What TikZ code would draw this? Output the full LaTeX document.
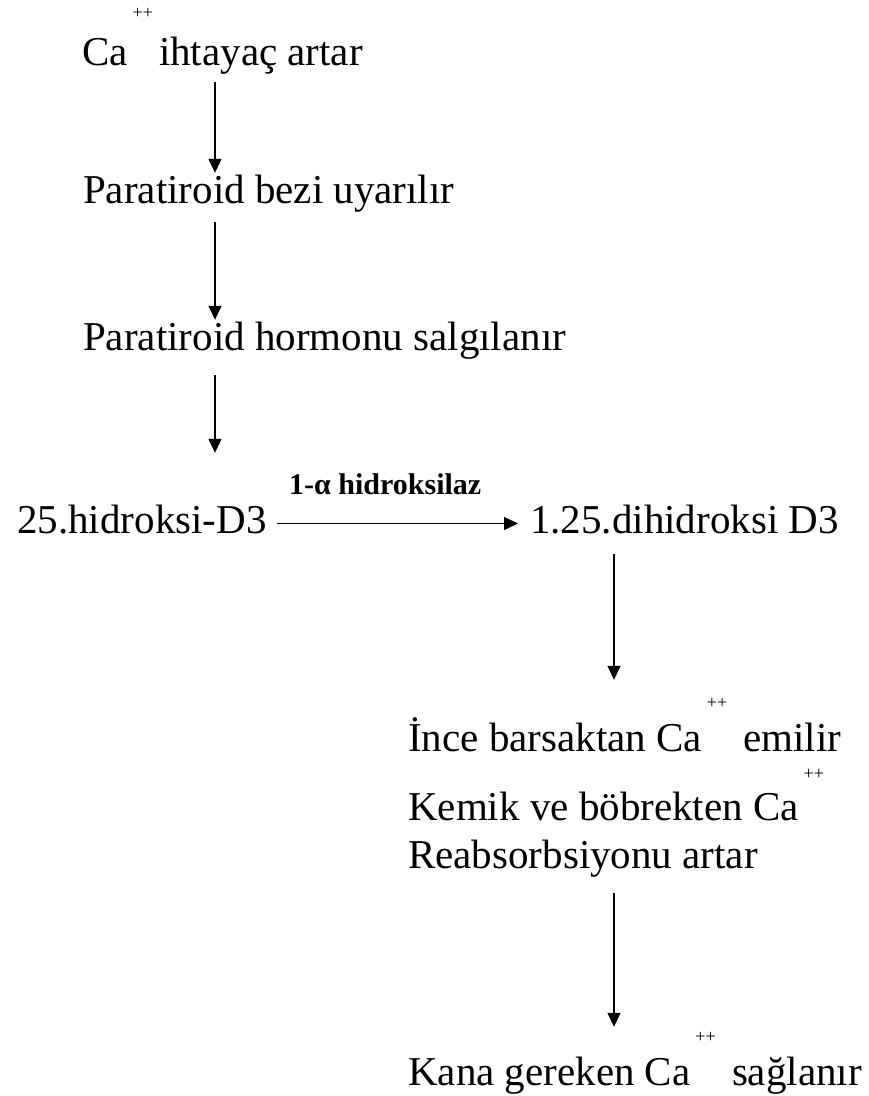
\documentclass[tikz,border=0pt]{standalone}
\usepackage{fontspec}
\setmainfont{Liberation Serif}
\usetikzlibrary{arrows.meta}

% raised ++ after Ca
\newcommand{\ionplus}[1][43pt]{\kern5pt\smash{\raisebox{#1}{\fontsize{18}{18}\selectfont ++}}\kern6pt}

\begin{document}
\begin{tikzpicture}[x=1pt, y=-1pt,
    textline/.style={anchor=base west, inner sep=0pt, text height=28pt, text depth=9pt,
      font=\fontsize{41}{49}\selectfont},
    flow/.style={-{Triangle[length=14pt,width=13pt]}, line width=1.3pt}]
    \useasboundingbox (0,0) rectangle (869,1096);

    % draw nodes
    \node[textline] (need)      at (82,65)   {Ca\ionplus[47pt] ihtayaç artar};
    \node[textline] (gland)     at (83,203)  {Paratiroid bezi uyarılır};
    \node[textline] (hormone)   at (83,350)  {Paratiroid hormonu salgılanır};
    \node[textline] (hydroxy)   at (17,533)  {25.hidroksi-D3};
    \node[textline] (dihydroxy) at (530,533) {1.25.dihidroksi D3};
    \node[textline] (intestine) at (408,751) {İnce barsaktan Ca\ionplus{} emilir};
    \node[textline] (bone)      at (408,820) {Kemik ve böbrekten Ca\ionplus[41pt]};
    \node[textline] (reabs)     at (408,868) {Reabsorbsiyonu artar};
    \node[textline] (blood)     at (408,1085) {Kana gereken Ca\ionplus{} sağlanır};

    % draw vertical arrows
    \coordinate (left) at (215,0);
    \coordinate (right) at (614,0);
    \draw[flow, shorten <=8pt, shorten >=2pt] (need.south -| left) -- (gland.north -| left);
    \draw[flow, shorten <=10pt, shorten >=2pt] (gland.south -| left) -- (hormone.north -| left);
    \draw[flow, shorten <=16pt, shorten >=52pt] (hormone.south -| left) -- (hydroxy.north -| left);
    \draw[flow, shorten <=12pt, shorten >=43pt] (dihydroxy.south -| right) -- (intestine.north -| right);
    \draw[flow, shorten <=16pt, shorten >=30pt] (reabs.south -| right) -- (blood.north -| right);

    % draw horizontal arrow
    \draw[flow, shorten <=10pt, shorten >=12pt] (hydroxy.east) -- (dihydroxy.west)
      node[pos=0.45, above=28pt, inner sep=0pt, font=\fontsize{30}{30}\bfseries] (enzyme) {1-α hidroksilaz};
\end{tikzpicture}
\end{document}
